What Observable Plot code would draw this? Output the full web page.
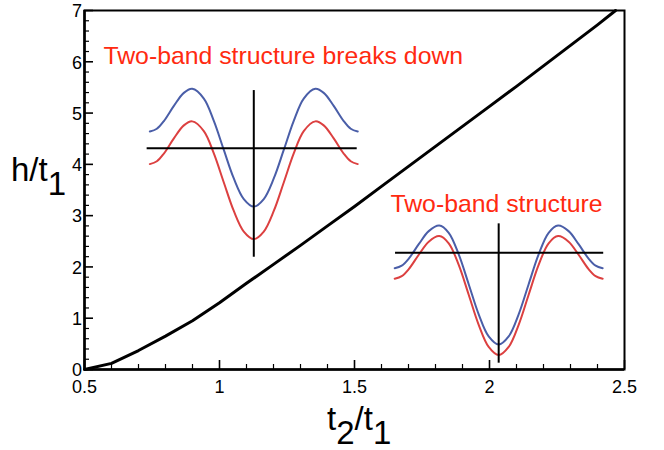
<!DOCTYPE html>
<html>
<head>
<meta charset="utf-8">
<script src="https://cdn.jsdelivr.net/npm/d3@7"></script>
<script src="https://cdn.jsdelivr.net/npm/@observablehq/plot@0.6"></script>
<style>
  html, body { margin: 0; padding: 0; background: #fff; }
  #chart { width: 664px; height: 450px; }
</style>
</head>
<body>
<div id="chart"></div>
<script>
// ---- main curve: h/t1 versus t2/t1 ----
const ratioT2T1 = [0.5, 0.6, 0.7, 0.8, 0.9, 1.0, 1.1, 1.2, 1.3, 1.4, 1.5, 1.6, 1.7, 1.8, 1.9, 2.0, 2.1, 2.2, 2.3, 2.4, 2.467];
const ratioHT1  = [0, 0.12, 0.37, 0.65, 0.95, 1.3, 1.68, 2.05, 2.42, 2.8, 3.18, 3.57, 3.96, 4.35, 4.74, 5.13, 5.52, 5.92, 6.32, 6.72, 7.0];

// ---- ticks ----
const xMajorTicks = [0.5, 1, 1.5, 2, 2.5];
const xTickLabels = ["0.5", "1", "1.5", "2", "2.5"];
const xMinorTicks = [0.6, 0.7, 0.8, 0.9, 1.1, 1.2, 1.3, 1.4, 1.6, 1.7, 1.8, 1.9, 2.1, 2.2, 2.3, 2.4];
const yMajorTicks = [0, 1, 2, 3, 4, 5, 6, 7];
const yTickLabels = ["0", "1", "2", "3", "4", "5", "6", "7"];
const yMinorTicks = [0.2, 0.4, 0.6, 0.8, 1.2, 1.4, 1.6, 1.8, 2.2, 2.4, 2.6, 2.8, 3.2, 3.4, 3.6, 3.8,
                     4.2, 4.4, 4.6, 4.8, 5.2, 5.4, 5.6, 5.8, 6.2, 6.4, 6.6, 6.8];

// ---- inset 1: "Two-band structure breaks down" (in main-axis units) ----
const inset1X    = [0.742, 0.768, 0.794, 0.831, 0.868, 0.899, 0.942, 0.979, 1.016, 1.053, 1.090, 1.127,
                    1.164, 1.201, 1.238, 1.275, 1.312, 1.355, 1.386, 1.423, 1.460, 1.486, 1.512];
const inset1Blue = [4.639, 4.694, 4.844, 5.140, 5.394, 5.472, 5.283, 4.848, 4.281, 3.725, 3.324, 3.177,
                    3.324, 3.725, 4.281, 4.848, 5.283, 5.472, 5.394, 5.140, 4.844, 4.694, 4.639];
const inset1Red  = [4.005, 4.060, 4.210, 4.506, 4.760, 4.838, 4.649, 4.214, 3.647, 3.091, 2.690, 2.543,
                    2.690, 3.091, 3.647, 4.214, 4.649, 4.838, 4.760, 4.506, 4.210, 4.060, 4.005];
const inset1HAxis = {x1: 0.732, x2: 1.510, y: 4.314};
const inset1VAxis = {x: 1.127, y1: 2.189, y2: 5.439};

// ---- inset 2: "Two-band structure" ----
const inset2X    = [1.649, 1.675, 1.701, 1.738, 1.775, 1.814, 1.849, 1.886, 1.923, 1.960, 1.997, 2.034,
                    2.071, 2.108, 2.145, 2.182, 2.219, 2.254, 2.293, 2.330, 2.367, 2.393, 2.419];
const inset2Blue = [1.975, 2.025, 2.162, 2.443, 2.698, 2.807, 2.665, 2.244, 1.663, 1.076, 0.645, 0.487,
                    0.645, 1.076, 1.663, 2.244, 2.665, 2.807, 2.698, 2.443, 2.162, 2.025, 1.975];
const inset2Red  = [1.770, 1.820, 1.957, 2.238, 2.493, 2.602, 2.460, 2.039, 1.458, 0.871, 0.440, 0.282,
                    0.440, 0.871, 1.458, 2.039, 2.460, 2.602, 2.493, 2.238, 1.957, 1.820, 1.770];
const inset2HAxis = {x1: 1.652, x2: 2.423, y: 2.275};
const inset2VAxis = {x: 2.034, y1: 0.123, y2: 2.840};

// ---- annotations ----
const labelText = ["Two-band structure breaks down", "Two-band structure"];
const labelX    = [0.570, 1.633];
const labelY    = [6.117, 3.232];

const FONT = "'Liberation Sans', Arial, Helvetica, sans-serif";
const BLUE = "#4a5ea8";
const RED  = "#dc4040";
const TEXT_RED = "#ff2a10";

const mainData = ratioT2T1.map((x, i) => ({x, y: ratioHT1[i]}));
const band = (xs, ys) => xs.map((x, i) => ({x, y: ys[i]}));
const labels = labelText.map((t, i) => ({t, x: labelX[i], y: labelY[i]}));
const xTickData = xMajorTicks.map((v, i) => ({v, s: xTickLabels[i]}));
const yTickData = yMajorTicks.map((v, i) => ({v, s: yTickLabels[i]}));
const hAxes = [inset1HAxis, inset2HAxis];
const vAxes = [inset1VAxis, inset2VAxis];

const W = 664, H = 450, mL = 84, mR = 40, mT = 10, mB = 81;
const plotH = H - mT - mB, plotW = W - mL - mR;

const chart = Plot.plot({
  width: W, height: H,
  marginLeft: mL, marginRight: mR, marginTop: mT, marginBottom: mB,
  x: {domain: [0.5, 2.5], axis: null},
  y: {domain: [0, 7], axis: null},
  style: {fontFamily: FONT, fontSize: "18px", color: "#000", background: "#fff", overflow: "visible"},
  marks: [
    // inset bands
    Plot.line(band(inset1X, inset1Blue), {x: "x", y: "y", stroke: BLUE, strokeWidth: 2, curve: "catmull-rom"}),
    Plot.line(band(inset1X, inset1Red),  {x: "x", y: "y", stroke: RED,  strokeWidth: 2, curve: "catmull-rom"}),
    Plot.line(band(inset2X, inset2Blue), {x: "x", y: "y", stroke: BLUE, strokeWidth: 2, curve: "catmull-rom"}),
    Plot.line(band(inset2X, inset2Red),  {x: "x", y: "y", stroke: RED,  strokeWidth: 2, curve: "catmull-rom"}),
    // inset axes
    Plot.ruleY(hAxes, {y: "y", x1: "x1", x2: "x2", stroke: "#000", strokeWidth: 2}),
    Plot.ruleX(vAxes, {x: "x", y1: "y1", y2: "y2", stroke: "#000", strokeWidth: 2}),
    // main curve
    Plot.line(mainData, {x: "x", y: "y", stroke: "#000", strokeWidth: 3, strokeLinejoin: "round"}),
    // labels
    Plot.text(labels, {x: "x", y: "y", text: "t", textAnchor: "start", lineAnchor: "middle",
                       fill: TEXT_RED, fontSize: 24.8, fontFamily: FONT}),
    // inward ticks
    Plot.ruleX(xMajorTicks, {stroke: "#000", strokeWidth: 1.6, insetTop: plotH - 9}),
    Plot.ruleX(xMinorTicks, {stroke: "#000", strokeWidth: 1.2, insetTop: plotH - 5}),
    Plot.ruleY(yMajorTicks, {stroke: "#000", strokeWidth: 1.6, insetRight: plotW - 9}),
    Plot.ruleY(yMinorTicks, {stroke: "#000", strokeWidth: 1.2, insetRight: plotW - 5}),
    // tick labels
    Plot.text(xTickData, {x: "v", frameAnchor: "bottom", dy: 11, lineAnchor: "top",
                          text: "s", fontSize: 18, fontFamily: FONT, fill: "#000"}),
    Plot.text(yTickData, {y: "v", frameAnchor: "left", dx: -2.5, dy: 1, textAnchor: "end", lineAnchor: "middle",
                          text: "s", fontSize: 18, fontFamily: FONT, fill: "#000"}),
    // frame
    Plot.frame({stroke: "#000", strokeWidth: 2}),
    Plot.ruleX([0.5], {stroke: "#000", strokeWidth: 2.5}),
    Plot.ruleY([0], {stroke: "#000", strokeWidth: 2.5})
  ]
});

document.getElementById("chart").appendChild(chart);

// axis titles with full-size subscripts
const svg = d3.select(chart);
// t2/t1
(() => {
  const t = svg.append("text").attr("x", 327).attr("y", 430).attr("text-anchor", "start")
    .attr("font-family", FONT).attr("font-size", 33).attr("fill", "#000");
  t.append("tspan").text("t");
  t.append("tspan").attr("dy", 14).text("2");
  t.append("tspan").attr("dy", -14).text("/t");
  t.append("tspan").attr("dy", 14).text("1");
})();
// h/t1
(() => {
  const t = svg.append("text").attr("x", 11).attr("y", 181).attr("text-anchor", "start")
    .attr("font-family", FONT).attr("font-size", 33).attr("fill", "#000");
  t.append("tspan").text("h/t");
  t.append("tspan").attr("dy", 14).text("1");
})();
</script>
</body>
</html>
